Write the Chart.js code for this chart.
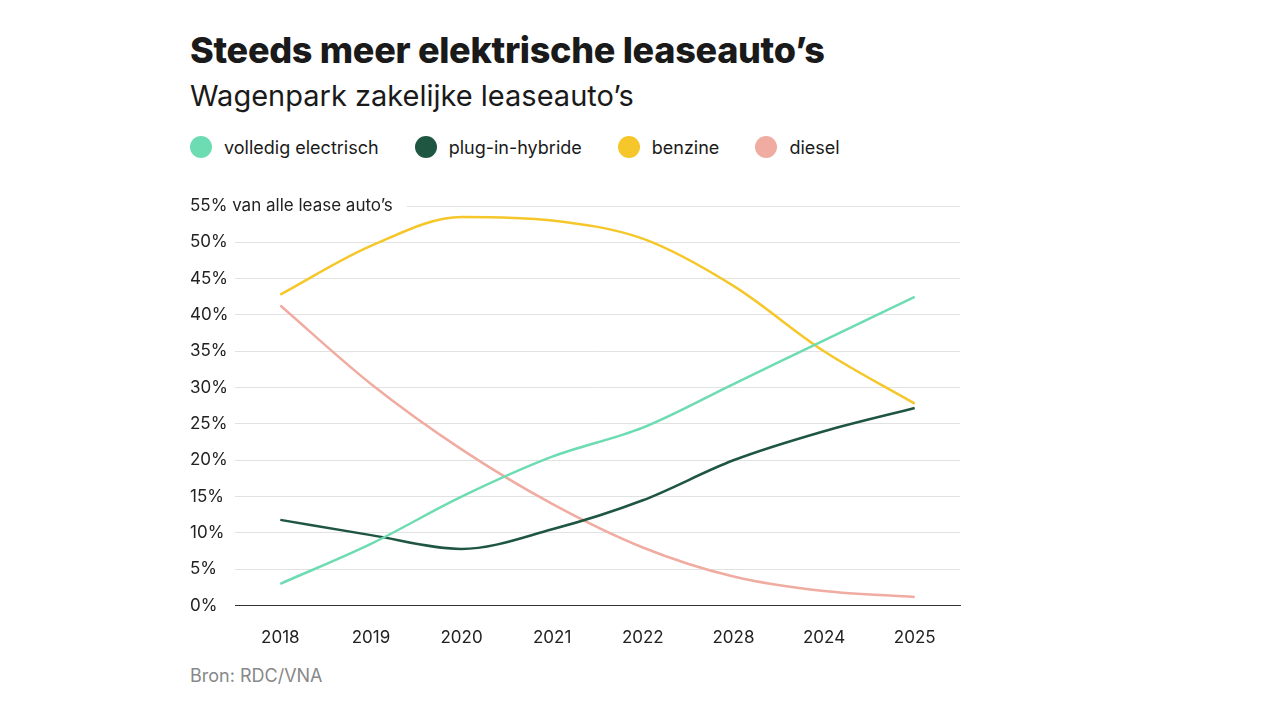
<!DOCTYPE html>
<html><head><meta charset="utf-8">
<script src="https://cdn.jsdelivr.net/npm/chart.js@4"></script>
<style>
body{margin:0;background:#fff;font-family:Inter,"Noto Sans",sans-serif;color:#1a1a1a;}
#wrap{position:absolute;left:0;top:0;width:1280px;height:720px;}
h1{position:absolute;left:190px;top:28px;margin:0;font-size:36px;font-weight:800;letter-spacing:-0.3px;}
h2{position:absolute;left:190px;top:78px;margin:0;font-size:29px;font-weight:400;}
#legend{position:absolute;left:190px;top:136px;font-size:18px;display:flex;}
#legend span{display:flex;align-items:center;margin-right:36px;}
#legend i{display:inline-block;width:22px;height:22px;border-radius:50%;margin-right:12px;}
#src{position:absolute;left:190px;top:665px;font-size:18px;color:#888;}
#cw{position:absolute;left:190px;top:190px;width:790px;height:472px;}
</style></head><body><div id="wrap">
<h1>Steeds meer elektrische leaseauto’s</h1>
<h2>Wagenpark zakelijke leaseauto’s</h2>
<div id="legend"></div>
<div id="cw"><canvas id="c"></canvas></div>
<div id="src">Bron: RDC/VNA</div>
</div>
<script>
const jaren = ['2018','2019','2020','2021','2022','2028','2024','2025'];
const elektrisch = [3, 8.5, 15, 20.5, 24.5, 30.5, 36.5, 42.5];
const pluginHybride = [11.8, 9.7, 7.8, 10.5, 14.5, 20, 24, 27.2];
const benzine = [42.8, 49.5, 53.5, 53, 50.5, 44, 35, 27.8];
const diesel = [41.3, 30.5, 21.5, 14, 8, 4, 2, 1.2];
const namen = ['volledig electrisch','plug-in-hybride','benzine','diesel'];
const kleuren = ['#6ddcb2','#1f5641','#f5c72a','#f0aca1'];
const topLabel = '55% van alle lease auto’s';

const legend = document.getElementById('legend');
namen.forEach((n, i) => {
    legend.innerHTML += `<span><i style="background:${kleuren[i]}"></i>${n}</span>`;
});

// bovenste aslabel loopt over het grid heen
const topLabelPlugin = {
    id: 'topLabel',
    afterDraw(chart) {
        const ctx = chart.ctx, y = chart.scales.y;
        const py = y.getPixelForValue(55);
        ctx.save();
        ctx.font = '17px Inter';
        const w = ctx.measureText(topLabel).width;
        ctx.fillStyle = '#fff';
        ctx.fillRect(0, py - 12, w + 14, 24);
        ctx.fillStyle = '#222';
        ctx.textBaseline = 'middle';
        ctx.fillText(topLabel, 0, py);
        ctx.restore();
    }
};

const series = [elektrisch, pluginHybride, benzine, diesel];
new Chart(document.getElementById('c'), {
    type: 'line',
    data: {
        labels: jaren,
        datasets: series.map((d, i) => ({
            label: namen[i], data: d, borderColor: kleuren[i],
            borderWidth: 2.5, pointRadius: 0, cubicInterpolationMode: 'monotone'
        }))
    },
    plugins: [topLabelPlugin],
    options: {
        responsive: true, maintainAspectRatio: false, animation: false,
        layout: { padding: { right: 20, top: 16 } },
        plugins: { legend: { display: false }, tooltip: { enabled: false } },
        scales: {
            x: {
                offset: true,
                grid: { display: false },
                border: { color: '#333' },
                ticks: { color: '#222', font: { size: 17, family: 'Inter' }, padding: 14 }
            },
            y: {
                min: 0, max: 55,
                ticks: {
                    stepSize: 5, color: '#222', font: { size: 17, family: 'Inter' },
                    crossAlign: 'far', padding: 4,
                    callback: v => v === 55 ? '' : v + '%'
                },
                afterFit: s => { s.width = 45; },
                grid: { color: '#e2e2e2', drawTicks: false },
                border: { display: false }
            }
        }
    }
});
</script></body></html>
